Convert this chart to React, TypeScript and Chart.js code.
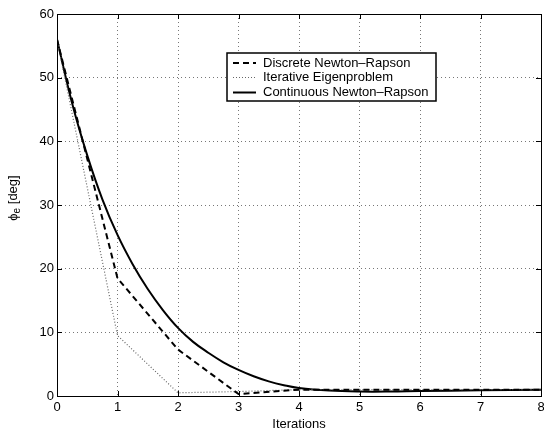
import React, { useEffect, useRef } from "react";
import { Chart, registerables } from "chart.js";

Chart.register(...registerables);

const iterations = [0, 1, 2, 3, 4, 5, 6, 7, 8];
const discreteNR = [56, 18.5, 7.3, 0.3, 1.0, 1.0, 1.0, 1.0, 1.0];
const iterativeEig = [56, 9.5, 0.5, 0.7, 1.0, 1.0, 1.0, 1.0, 1.0];
const contX = [0, 0.25, 0.5, 0.75, 1, 1.25, 1.5, 1.75, 2, 2.25, 2.5, 2.75, 3, 3.25, 3.5, 3.75, 4, 4.5, 5, 5.5, 6, 7, 8];
const contNR = [56, 46, 37.8, 30.9, 25.3, 20.7, 16.8, 13.5, 10.7, 8.5, 6.8, 5.3, 4.1, 3.1, 2.3, 1.7, 1.25, 0.85, 0.7, 0.7, 0.78, 0.9, 1.0];
const seriesLabels = ["Discrete Newton–Rapson", "Iterative Eigenproblem", "Continuous Newton–Rapson"];
const xTickValues = [0, 1, 2, 3, 4, 5, 6, 7, 8];
const yTickValues = [0, 10, 20, 30, 40, 50, 60];
const xTitle = "Iterations";

const FONT = "'Liberation Sans', Arial, Helvetica, sans-serif";

const framePlugin = {
  id: "frameLegend",
  afterDraw(chart: any) {
    const { ctx, chartArea } = chart;
    const { left, right, top, bottom } = chartArea;
    const xs = chart.scales.x;
    const ys = chart.scales.y;
    ctx.save();
    ctx.strokeStyle = "#000";
    ctx.lineWidth = 1;
    ctx.setLineDash([]);
    ctx.strokeRect(Math.round(left) + 0.5, Math.round(top) + 0.5, Math.round(right - left), Math.round(bottom - top));
    ctx.beginPath();
    xTickValues.forEach((v) => {
      const px = Math.round(xs.getPixelForValue(v)) + 0.5;
      ctx.moveTo(px, bottom);
      ctx.lineTo(px, bottom - 5);
      ctx.moveTo(px, top);
      ctx.lineTo(px, top + 5);
    });
    yTickValues.forEach((v) => {
      const py = Math.round(ys.getPixelForValue(v)) + 0.5;
      ctx.moveTo(left, py);
      ctx.lineTo(left + 5, py);
      ctx.moveTo(right, py);
      ctx.lineTo(right - 5, py);
    });
    ctx.stroke();

    const bx = 227, by = 53, bw = 209, bh = 48;
    ctx.fillStyle = "#fff";
    ctx.fillRect(bx, by, bw, bh);
    ctx.lineWidth = 1.5;
    ctx.strokeStyle = "#000";
    ctx.strokeRect(bx, by, bw, bh);
    const rows = [63, 77.5, 92.5];
    chart.data.datasets.forEach((ds: any, i: number) => {
      const y = rows[i];
      ctx.save();
      ctx.strokeStyle = ds.borderColor;
      ctx.lineWidth = ds.borderWidth;
      ctx.setLineDash(ds.borderDash || []);
      ctx.beginPath();
      ctx.moveTo(233, y);
      ctx.lineTo(256, y);
      ctx.stroke();
      ctx.restore();
      ctx.fillStyle = "#000";
      ctx.font = `13px ${FONT}`;
      ctx.textBaseline = "middle";
      ctx.textAlign = "left";
      ctx.fillText(ds.label, 263, y);
    });

    ctx.save();
    ctx.translate(13, 198);
    ctx.rotate(-Math.PI / 2);
    ctx.fillStyle = "#000";
    ctx.textBaseline = "middle";
    ctx.textAlign = "left";
    const big = `13px ${FONT}`;
    const small = `10px ${FONT}`;
    ctx.font = big;
    const w1 = ctx.measureText("ϕ").width;
    ctx.font = small;
    const w2 = ctx.measureText("e").width;
    ctx.font = big;
    const w3 = ctx.measureText(" [deg]").width;
    let x0 = -(w1 + w2 + w3) / 2;
    ctx.font = big;
    ctx.fillText("ϕ", x0, 0);
    x0 += w1;
    ctx.font = small;
    ctx.fillText("e", x0, 4);
    x0 += w2;
    ctx.font = big;
    ctx.fillText(" [deg]", x0, 0);
    ctx.restore();
    ctx.restore();
  },
};

export default function App() {
  const ref = useRef<HTMLCanvasElement | null>(null);
  useEffect(() => {
    if (!ref.current) return;
    const chart = new Chart(ref.current, {
      type: "line",
      data: {
        datasets: [
          {
            label: seriesLabels[0],
            data: iterations.map((x, i) => ({ x, y: discreteNR[i] })),
            borderColor: "#000",
            borderWidth: 2,
            borderDash: [6, 4],
            pointRadius: 0,
            tension: 0,
            fill: false,
          },
          {
            label: seriesLabels[1],
            data: iterations.map((x, i) => ({ x, y: iterativeEig[i] })),
            borderColor: "#666",
            borderWidth: 1.2,
            borderDash: [1, 2],
            pointRadius: 0,
            tension: 0,
            fill: false,
          },
          {
            label: seriesLabels[2],
            data: contX.map((x, i) => ({ x, y: contNR[i] })),
            borderColor: "#000",
            borderWidth: 2,
            pointRadius: 0,
            tension: 0.4,
            fill: false,
          },
        ],
      },
      options: {
        animation: false,
        responsive: false,
        devicePixelRatio: 1,
        layout: { padding: { left: 0, right: 3, top: 14, bottom: 0 } },
        plugins: { legend: { display: false }, tooltip: { enabled: false } },
        scales: {
          x: {
            type: "linear",
            min: 0,
            max: 8,
            afterBuildTicks: (s: any) => {
              s.ticks = xTickValues.map((v) => ({ value: v }));
            },
            afterFit: (s: any) => {
              s.height = 39;
              s.paddingLeft = 0;
              s.paddingRight = 0;
            },
            ticks: { color: "#000", font: { family: FONT, size: 13 }, padding: 4, maxRotation: 0 },
            grid: { display: true, color: "#777", lineWidth: 1, drawTicks: false },
            border: { display: false, dash: [1, 3] },
            title: { display: true, text: xTitle, color: "#000", font: { family: FONT, size: 13 }, padding: { top: 0, bottom: 3 } },
          },
          y: {
            type: "linear",
            min: 0,
            max: 60,
            afterBuildTicks: (s: any) => {
              s.ticks = yTickValues.map((v) => ({ value: v }));
            },
            afterFit: (s: any) => {
              s.width = 57;
              s.paddingTop = 0;
              s.paddingBottom = 0;
            },
            ticks: { color: "#000", font: { family: FONT, size: 13 }, padding: 3 },
            grid: { display: true, color: "#777", lineWidth: 1, drawTicks: false },
            border: { display: false, dash: [1, 3] },
          },
        },
      },
      plugins: [framePlugin],
    } as any);
    return () => chart.destroy();
  }, []);
  return (
    <div style={{ position: "fixed", left: 0, top: 0, width: 544, height: 435, background: "#fff" }}>
      <canvas ref={ref} width={544} height={435} style={{ width: 544, height: 435, display: "block" }} />
    </div>
  );
}
